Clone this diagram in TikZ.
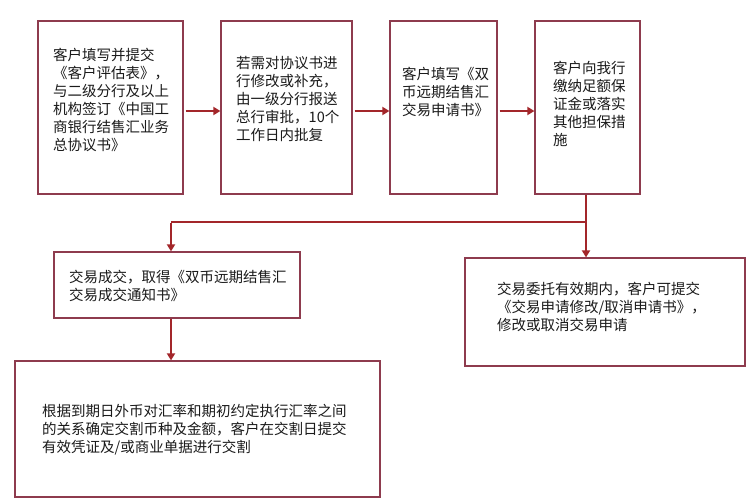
\documentclass[tikz,border=0pt]{standalone}
\usepackage{fontspec}
\newfontfamily\cjk{Noto Sans CJK SC}
\usetikzlibrary{arrows.meta}
\definecolor{boxline}{HTML}{8E3B4E}
\definecolor{arrline}{HTML}{A3262A}
\definecolor{txt}{HTML}{1A1A1A}
\begin{document}
\begin{tikzpicture}[x=1pt,y=-1pt,
  box/.style={draw=boxline,line width=1.2pt,rectangle,inner sep=0pt,fill=white},
  lbl/.style={anchor=west,align=left,inner sep=0pt,text=txt,font=\cjk\fontsize{14.5}{18}\selectfont},
  arr/.style={draw=arrline,line width=1.8pt,-{Triangle[length=7pt,width=8pt]}},
  ln/.style={draw=arrline,line width=1.8pt}]
\useasboundingbox (0,0) rectangle (754,503);
\fill[white] (0,0) rectangle (754,503);
% boxes
\node[box,minimum width=145pt,minimum height=173pt] (b1) at (110.5,107.5) {};
\node[box,minimum width=131pt,minimum height=173pt] (b2) at (286.5,107.5) {};
\node[box,minimum width=107pt,minimum height=173pt] (b3) at (443.5,107.5) {};
\node[box,minimum width=105pt,minimum height=173pt] (b4) at (587.5,107.5) {};
\node[box,minimum width=246pt,minimum height=66pt] (b5) at (177,285) {};
\node[box,minimum width=365pt,minimum height=136pt] (b6) at (197.5,429) {};
\node[box,minimum width=280pt,minimum height=108pt] (b7) at (605,312) {};
% texts
\node[lbl] (t1) at (53,100) {客户填写并提交\\《客户评估表》，\\与二级分行及以上\\机构签订《中国工\\商银行结售汇业务\\总协议书》};
\node[lbl] (t2) at (236,99) {若需对协议书进\\行修改或补充，\\由一级分行报送\\总行审批，10个\\工作日内批复};
\node[lbl] (t3) at (402,92) {客户填写《双\\币远期结售汇\\交易申请书》};
\node[lbl] (t4) at (553,104) {客户向我行\\缴纳足额保\\证金或落实\\其他担保措\\施};
\node[lbl] (t5) at (69,286) {交易成交，取得《双币远期结售汇\\交易成交通知书》};
\node[lbl] (t6) at (42,430) {根据到期日外币对汇率和期初约定执行汇率之间\\的关系确定交割币种及金额，客户在交割日提交\\有效凭证及/或商业单据进行交割};
\node[lbl] (t7) at (497,307) {交易委托有效期内，客户可提交\\《交易申请修改/取消申请书》，\\修改或取消交易申请};
% connectors
\draw[arr] ([xshift=2pt,yshift=-3.5pt]b1.east) -- ([yshift=-3.5pt]b2.west);
\draw[arr] ([xshift=2pt,yshift=-3.5pt]b2.east) -- ([yshift=-3.5pt]b3.west);
\draw[arr] ([xshift=2pt,yshift=-3.5pt]b3.east) -- ([yshift=-3.5pt]b4.west);
\coordinate (j1) at (586,222);
\coordinate (j2) at (171,222);
\draw[arr] (j1 |- b4.south) -- (j1 |- b7.north);
\draw[ln] (j1) -- (j2);
\draw[arr] ([yshift=-0.9pt]j2) -- (j2 |- b5.north);
\draw[arr] (j2 |- b5.south) -- (j2 |- b6.north);
\end{tikzpicture}
\end{document}
